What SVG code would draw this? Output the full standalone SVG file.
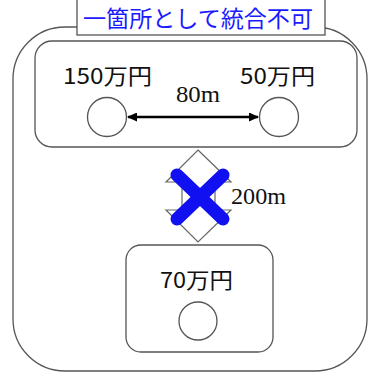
<svg xmlns="http://www.w3.org/2000/svg" width="369" height="374" viewBox="0 0 369 374">
<style>
.box{fill:#fff;stroke:#555;stroke-width:1.3}
.jp{font-family:"Noto Sans CJK JP","Noto Sans",sans-serif;font-size:22px;fill:#111}
.num{font-family:"Liberation Serif",serif;font-size:23px;fill:#111}
.site{fill:#fff;stroke:#555;stroke-width:1.3}
</style>
<defs>
<marker id="ah" markerWidth="10" markerHeight="9" refX="9" refY="4.5" orient="auto-start-reverse" markerUnits="userSpaceOnUse">
<path d="M0,0 L10,4.5 L0,9 Z" fill="#000"/>
</marker>
</defs>
<g id="outer"><rect class="box" x="13" y="27" width="354" height="344" rx="52"/></g>
<g id="title">
<rect x="77" y="-2" width="248" height="37" fill="#fff" stroke="#555" stroke-width="1.3"/>
<text x="83" y="27" textLength="230" lengthAdjust="spacingAndGlyphs" font-family="'Noto Sans CJK JP','Noto Sans',sans-serif" font-size="23" fill="#1a1aff">一箇所として統合不可</text>
</g>
<g id="group-top">
<rect class="box" x="35" y="41" width="322" height="106" rx="17"/>
<text class="jp" x="63" y="84" textLength="89" lengthAdjust="spacingAndGlyphs">150万円</text>
<text class="jp" x="240" y="84" textLength="75" lengthAdjust="spacingAndGlyphs">50万円</text>
<circle class="site" cx="107" cy="117" r="19.5"/>
<circle class="site" cx="279" cy="117" r="19.5"/>
</g>
<g id="group-bottom">
<rect class="box" x="126" y="245" width="147" height="107" rx="15"/>
<text class="jp" x="160" y="288" textLength="73" lengthAdjust="spacingAndGlyphs">70万円</text>
<circle class="site" cx="198" cy="321" r="19"/>
</g>
<g id="connectors">
<line x1="128" y1="117" x2="258" y2="117" stroke="#000" stroke-width="2.5" marker-start="url(#ah)" marker-end="url(#ah)"/>
<text class="num" x="176" y="102" textLength="44" lengthAdjust="spacingAndGlyphs">80m</text>
<path d="M198,150 L231,182 L215,182 L215,210 L231,210 L198,242 L166,210 L182,210 L182,182 L166,182 Z" fill="#fff" stroke="#666" stroke-width="1.2"/>
<text class="num" x="231" y="204" textLength="55" lengthAdjust="spacingAndGlyphs">200m</text>
<g stroke="#1010f0" stroke-width="13" stroke-linecap="round">
<line x1="177" y1="175" x2="223" y2="219"/>
<line x1="223" y1="175" x2="177" y2="219"/>
</g>
</g>
</svg>
